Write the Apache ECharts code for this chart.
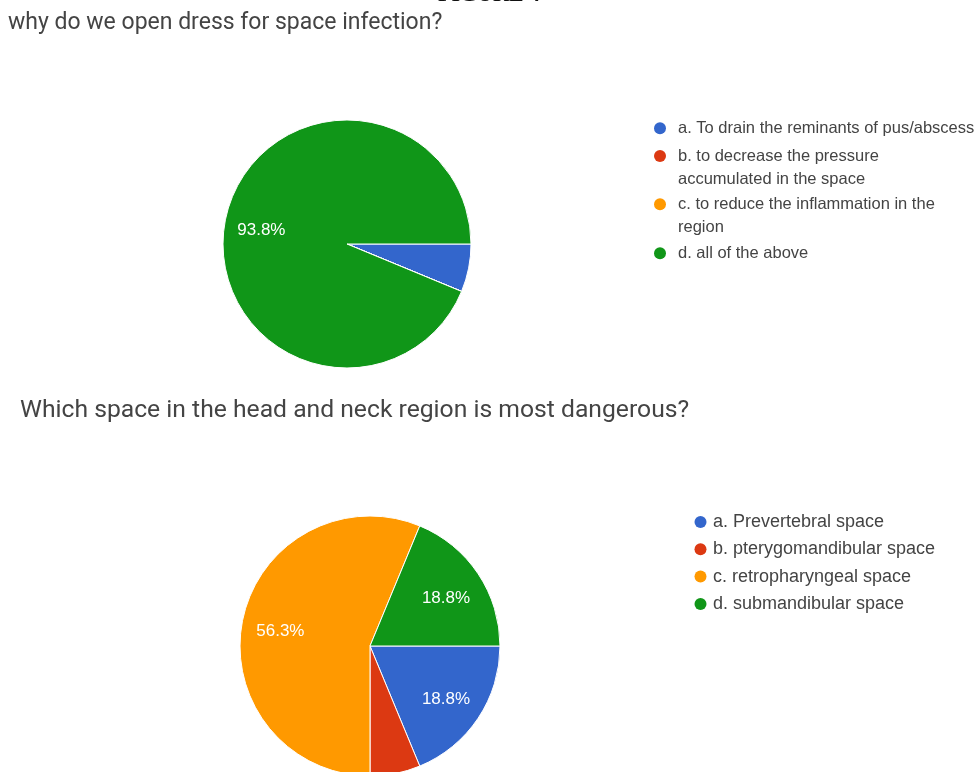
<!DOCTYPE html>
<html>
<head>
<meta charset="utf-8">
<script src="https://cdn.jsdelivr.net/npm/echarts@6/dist/echarts.min.js"></script>
<style>
  html, body { margin: 0; padding: 0; background: #ffffff; }
  #chart { width: 979px; height: 772px; }
</style>
</head>
<body>
<div id="chart"></div>
<script>
// ---- data ----
const figureCaption = 'FIGURE 4';
const q1Title = 'why do we open dress for space infection?';
const q1Categories = [
  'a. To drain the reminants of pus/abscess',
  'b. to decrease the pressure accumulated in the space',
  'c. to reduce the inflammation in the region',
  'd. all of the above'
];
const q1LegendText = [
  'a. To drain the reminants of pus/abscess',
  'b. to decrease the pressure\naccumulated in the space',
  'c. to reduce the inflammation in the\nregion',
  'd. all of the above'
];
const q1Counts = [1, 0, 0, 15];

const q2Title = 'Which space in the head and neck region is most dangerous?';
const q2Categories = [
  'a. Prevertebral space',
  'b. pterygomandibular space',
  'c. retropharyngeal space',
  'd. submandibular space'
];
const q2Counts = [3, 1, 9, 3];

const sliceColors = ['#3366cc', '#dc3912', '#ff9900', '#109618'];

// ---- layout ----
const pie1 = { cx: 347, cy: 244, r: 124 };
const pie2 = { cx: 370, cy: 646, r: 130 };
const labelFont = '"Liberation Sans", Arial, sans-serif';
const titleFont = 'Roboto, "Open Sans", sans-serif';

function pieData(names, values) {
  return names.map((n, i) => ({ name: n, value: values[i], itemStyle: { color: sliceColors[i] } }));
}
function ghostData(names, values) {
  return names.map((n, i) => ({ name: n, value: values[i] }));
}
function pctLabel(p) {
  return p.percent < 10 ? '' : p.percent.toFixed(1) + '%';
}
function mainPie(p, names, values) {
  return {
    type: 'pie',
    center: [p.cx, p.cy],
    radius: [0, p.r],
    startAngle: 0,
    clockwise: true,
    avoidLabelOverlap: false,
    data: pieData(names, values),
    itemStyle: { borderColor: '#ffffff', borderWidth: 1 },
    label: { show: false },
    labelLine: { show: false },
    emphasis: { disabled: true }
  };
}
function labelPie(p, names, values, fontSize) {
  return {
    type: 'pie',
    center: [p.cx, p.cy],
    radius: [p.r * 0.36, p.r],
    startAngle: 0,
    clockwise: true,
    silent: true,
    avoidLabelOverlap: false,
    data: ghostData(names, values),
    itemStyle: { color: 'rgba(0,0,0,0)', borderWidth: 0 },
    label: {
      show: true,
      position: 'inside',
      formatter: pctLabel,
      color: '#ffffff',
      fontFamily: labelFont,
      fontSize: fontSize,
      offset: [0, 3]
    },
    labelLine: { show: false },
    emphasis: { disabled: true }
  };
}

// top legend: one component per item so the dot sits on the first text line
const q1LegendLine1 = [128.3, 156, 204.3, 253.3];
const q1Legends = q1Categories.map((name, i) => {
  const twoLines = q1LegendText[i].indexOf('\n') >= 0;
  return {
    orient: 'vertical',
    left: 654,
    top: twoLines ? q1LegendLine1[i] - 34.5 : q1LegendLine1[i] - 11.5,
    padding: 0,
    itemWidth: 26,
    itemHeight: 12,
    icon: 'circle',
    selectedMode: false,
    data: [name],
    formatter: () => (twoLines ? '\n' : '') + q1LegendText[i],
    itemStyle: { borderWidth: 0 },
    textStyle: {
      fontFamily: labelFont,
      fontSize: 16.5,
      lineHeight: 23,
      color: '#444444'
    }
  };
});

const option = {
  backgroundColor: '#ffffff',
  animation: false,
  title: [
    {
      text: q1Title,
      left: 8, top: 9, padding: 0,
      textStyle: { fontFamily: titleFont, fontSize: 23, fontWeight: 'normal', color: '#444444', lineHeight: 28 }
    },
    {
      text: q2Title,
      left: 20, top: 396, padding: 0,
      textStyle: { fontFamily: titleFont, fontSize: 24.7, fontWeight: 'normal', color: '#444444', lineHeight: 30 }
    }
  ],
  graphic: [
    {
      type: 'text',
      x: 438, y: -15.5,
      style: { text: figureCaption, font: 'bold 22px "Liberation Serif", serif', fill: '#111111' }
    }
  ],
  legend: q1Legends.concat([
    {
      orient: 'vertical',
      left: 694.5,
      top: 512,
      padding: 0,
      itemWidth: 15,
      itemHeight: 12,
      itemGap: 7.3,
      icon: 'circle',
      selectedMode: false,
      data: q2Categories,
      itemStyle: { borderWidth: 0 },
      textStyle: { fontFamily: labelFont, fontSize: 18, lineHeight: 20, color: '#444444' }
    }
  ]),
  series: [
    mainPie(pie1, q1Categories, q1Counts),
    mainPie(pie2, q2Categories, q2Counts),
    labelPie(pie1, q1Categories, q1Counts, 17),
    labelPie(pie2, q2Categories, q2Counts, 17)
  ]
};

const chart = echarts.init(document.getElementById('chart'), null, { renderer: 'canvas' });
chart.setOption(option);
</script>
</body>
</html>
